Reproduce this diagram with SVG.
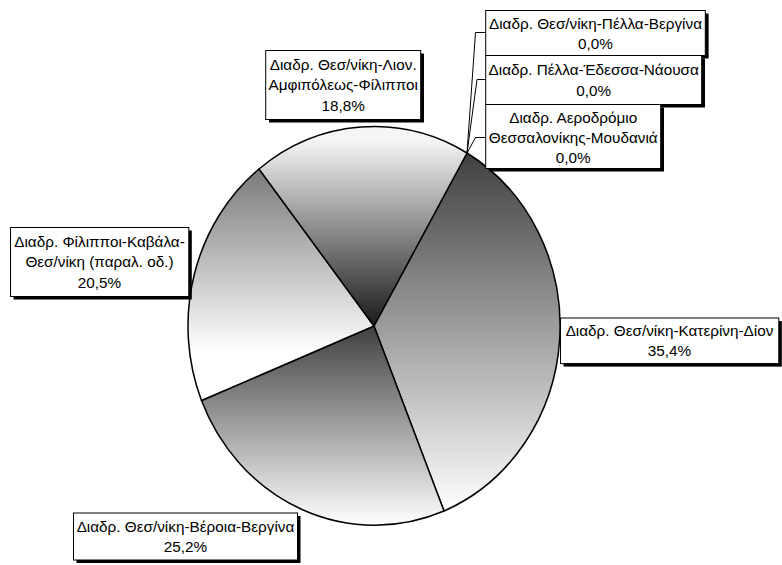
<svg xmlns="http://www.w3.org/2000/svg" width="782" height="565" viewBox="0 0 782 565">
<defs>
<linearGradient id="gDark" x1="0" y1="0" x2="0" y2="1">
<stop offset="0" stop-color="#404040"/>
<stop offset="1" stop-color="#ffffff"/>
</linearGradient>
<linearGradient id="gFil" gradientUnits="userSpaceOnUse" x1="0" y1="90" x2="0" y2="352">
<stop offset="0" stop-color="#404040"/>
<stop offset="1" stop-color="#ffffff"/>
</linearGradient>
<linearGradient id="gAmf" gradientUnits="userSpaceOnUse" x1="0" y1="140" x2="0" y2="326">
<stop offset="0" stop-color="#f5f5f5"/>
<stop offset="1" stop-color="#1a1a1a"/>
</linearGradient>
</defs>
<style>
.slice{stroke:#000;stroke-width:1.5;stroke-linejoin:round}
.box{fill:#fff;stroke:#000;stroke-width:1}
.shadow{fill:#000}
.lbl{font-family:"Liberation Sans",Arial,sans-serif;font-size:15.3px;fill:#000;text-anchor:middle}
.lead{fill:none;stroke:#000;stroke-width:1}
</style>
<rect width="782" height="565" fill="#fff"/>
<g id="pie">
<path id="slice-katerini" class="slice" fill="url(#gDark)" d="M374,326 L467,153 A187,200 0 0,1 444,511 Z"/>
<path id="slice-veroia" class="slice" fill="url(#gDark)" d="M374,326 L444,511 A187,200 0 0,1 201.5,400.5 Z"/>
<path id="slice-filippoi" class="slice" fill="url(#gFil)" d="M374,326 L201.5,400.5 A187,200 0 0,1 259,169 Z"/>
<path id="slice-amfipoleos" class="slice" fill="url(#gAmf)" d="M374,326 L259,169 A187,200 0 0,1 467,153 Z"/>
</g>
<g id="connectors">
<polyline class="lead" points="485.7,32.5 475.5,32.5 467,153"/>
<polyline class="lead" points="485.7,79.5 477,79.5 467,153"/>
<polyline class="lead" points="485.7,137.5 475.5,137.5 467,153"/>
</g>
<g id="label-pella-vergina">
<rect class="shadow" x="489" y="13.5" width="219.6" height="45"/>
<rect class="box" x="485.7" y="10.5" width="219.6" height="45"/>
<text class="lbl" x="595.5" y="29">Διαδρ. Θεσ/νίκη-Πέλλα-Βεργίνα</text>
<text class="lbl" x="595.5" y="49">0,0%</text>
</g>
<g id="label-pella-edessa">
<rect class="shadow" x="489" y="58.5" width="216" height="49"/>
<rect class="box" x="485.7" y="55.5" width="216" height="49"/>
<text class="lbl" x="593.7" y="75">Διαδρ. Πέλλα-Έδεσσα-Νάουσα</text>
<text class="lbl" x="593.7" y="96">0,0%</text>
</g>
<g id="label-aerodromio">
<rect class="shadow" x="489" y="107.5" width="175" height="64"/>
<rect class="box" x="485.7" y="104.5" width="175" height="64"/>
<text class="lbl" x="573.2" y="123">Διαδρ. Αεροδρόμιο</text>
<text class="lbl" x="573.2" y="143">Θεσσαλονίκης-Μουδανιά</text>
<text class="lbl" x="573.2" y="163">0,0%</text>
</g>
<g id="label-amfipoleos">
<rect class="shadow" x="269" y="53.5" width="155" height="69"/>
<rect class="box" x="265.7" y="50.5" width="155" height="69"/>
<text class="lbl" x="343.2" y="69.5">Διαδρ. Θεσ/νίκη-Λιον.</text>
<text class="lbl" x="343.2" y="90">Αμφιπόλεως-Φίλιπποι</text>
<text class="lbl" x="343.2" y="110.5">18,8%</text>
</g>
<g id="label-filippoi">
<rect class="shadow" x="13.5" y="230.5" width="178.3" height="69"/>
<rect class="box" x="10.5" y="227.5" width="178.3" height="69"/>
<text class="lbl" x="99.5" y="246.5">Διαδρ. Φίλιπποι-Καβάλα-</text>
<text class="lbl" x="99.5" y="267">Θεσ/νίκη (παραλ. οδ.)</text>
<text class="lbl" x="99.5" y="287.5">20,5%</text>
</g>
<g id="label-katerini">
<rect class="shadow" x="563.5" y="321" width="218.3" height="45.6"/>
<rect class="box" x="560.5" y="318" width="218.3" height="45.6"/>
<text class="lbl" x="669.5" y="336">Διαδρ. Θεσ/νίκη-Κατερίνη-Δίον</text>
<text class="lbl" x="669.5" y="356">35,4%</text>
</g>
<g id="label-veroia">
<rect class="shadow" x="76.5" y="516" width="224" height="47"/>
<rect class="box" x="73.5" y="513" width="224" height="47"/>
<text class="lbl" x="185.5" y="531.5">Διαδρ. Θεσ/νίκη-Βέροια-Βεργίνα</text>
<text class="lbl" x="185.5" y="551.5">25,2%</text>
</g>
</svg>
